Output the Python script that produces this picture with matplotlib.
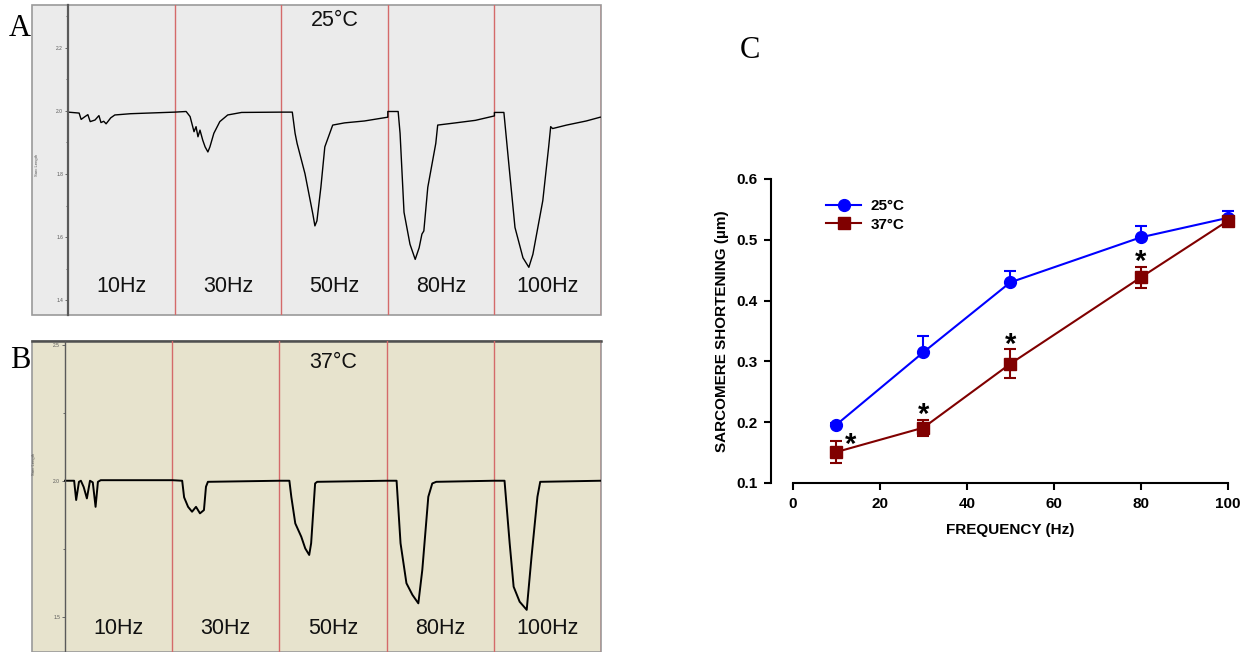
import numpy as np
import matplotlib
matplotlib.use("Agg")
import matplotlib.pyplot as plt
from matplotlib.patches import Rectangle
from matplotlib.lines import Line2D

plt.rcParams["font.family"] = ["Liberation Sans", "DejaVu Sans"]

# ---- panel A/B traces (sarcomere length, um) read from the recordings ----
# x is in "stimulation window" units: window k spans [k, k+1]
stim_labels = ["10Hz", "30Hz", "50Hz", "80Hz", "100Hz"]

trace_a_x = [0.0, 0.104, 0.123, 0.160, 0.186, 0.208, 0.253, 0.290, 0.309, 0.335, 0.357, 0.401, 0.439, 0.587, 1.0,
             1.108, 1.145, 1.182, 1.201, 1.219, 1.238, 1.264, 1.286, 1.312, 1.331, 1.368, 1.424, 1.498, 1.628, 2.0,
             2.104, 2.130, 2.149, 2.223, 2.297, 2.316, 2.335, 2.372, 2.409, 2.483, 2.595, 2.781, 3.0,
             3.0, 3.097, 3.115, 3.152, 3.208, 3.257, 3.294, 3.320, 3.338, 3.375, 3.450, 3.468, 3.636, 3.822, 4.0,
             4.0, 4.089, 4.138, 4.193, 4.268, 4.323, 4.361, 4.454, 4.509, 4.528, 4.546, 4.677, 4.862, 4.993]
trace_a_y = [1.996, 1.993, 1.973, 1.982, 1.988, 1.966, 1.971, 1.985, 1.963, 1.967, 1.959, 1.978, 1.987, 1.991, 1.996,
             1.998, 1.982, 1.934, 1.950, 1.918, 1.939, 1.907, 1.886, 1.870, 1.886, 1.929, 1.966, 1.987, 1.995, 1.996,
             1.996, 1.929, 1.897, 1.801, 1.673, 1.636, 1.652, 1.758, 1.886, 1.955, 1.962, 1.968, 1.980,
             1.998, 1.998, 1.929, 1.679, 1.578, 1.530, 1.567, 1.610, 1.620, 1.758, 1.897, 1.955, 1.962, 1.970, 1.984,
             1.995, 1.995, 1.822, 1.631, 1.535, 1.505, 1.546, 1.716, 1.886, 1.950, 1.944, 1.955, 1.968, 1.980]

trace_b_x = [0.0, 0.085, 0.104, 0.130, 0.148, 0.174, 0.204, 0.233, 0.259, 0.285, 0.307, 0.333, 1.0,
             1.093, 1.111, 1.148, 1.185, 1.222, 1.259, 1.296, 1.315, 1.333, 2.0,
             2.093, 2.111, 2.148, 2.204, 2.241, 2.278, 2.296, 2.333, 2.352, 3.0,
             3.093, 3.130, 3.185, 3.241, 3.296, 3.333, 3.389, 3.426, 3.463, 4.0,
             4.100, 4.148, 4.185, 4.241, 4.307, 4.352, 4.407, 4.433, 5.0]
trace_b_y = [2.0, 2.0, 1.929, 1.996, 2.0, 1.977, 1.935, 2.0, 1.994, 1.904, 1.996, 2.002, 2.002,
             2.0, 1.939, 1.904, 1.886, 1.904, 1.880, 1.892, 1.978, 1.996, 2.0,
             2.0, 1.941, 1.843, 1.794, 1.751, 1.727, 1.770, 1.990, 1.996, 2.0,
             2.0, 1.770, 1.623, 1.580, 1.549, 1.672, 1.941, 1.990, 1.996, 2.0,
             2.0, 1.770, 1.610, 1.555, 1.525, 1.721, 1.941, 1.996, 2.0]

# ---- panel C: sarcomere shortening vs frequency ----
freq = [10, 30, 50, 80, 100]
short_25 = [0.196, 0.315, 0.430, 0.504, 0.536]
err_25 = [0.003, 0.026, 0.019, 0.018, 0.011]
short_37 = [0.151, 0.191, 0.296, 0.438, 0.531]
err_37 = [0.018, 0.013, 0.024, 0.018, 0.004]
signif = [True, True, True, True, False]

W, H = 1248, 652
fig = plt.figure(figsize=(W / 100, H / 100), dpi=100)


def px_axes(x0, y0, x1, y1):
    # axes from pixel box (top-left origin)
    return fig.add_axes([x0 / W, 1 - y1 / H, (x1 - x0) / W, (y1 - y0) / H])


def trace_panel(ax, xs, ys, bg, xlim, ylim, major, minor, temp, label_y, frame_top):
    ax.set_facecolor(bg)
    ax.set_xlim(*xlim)
    ax.set_ylim(*ylim)
    for s in ["top", "right", "bottom"]:
        ax.spines[s].set_visible(False)
    ax.spines["left"].set_position(("data", 0))
    ax.spines["left"].set_color("#5a5a5a")
    ax.spines["left"].set_linewidth(1.6 if frame_top is None else 1.0)
    ax.set_xticks([])
    ax.set_yticks(major)
    ax.set_yticklabels(["%.1f" % v for v in major], fontsize=3.5, color="#555555")
    ax.set_yticks(minor, minor=True)
    ax.tick_params(axis="y", which="major", length=2.5, width=0.6, pad=1, colors="#555555")
    ax.tick_params(axis="y", which="minor", length=1.2, width=0.6, colors="#555555")
    ax.text(-0.29, 1.83 if frame_top is None else 2.06, "Sarc Length", rotation=90, fontsize=3,
            color="#555555", ha="center", va="center")
    # frame
    ax.add_patch(Rectangle((0, 0), 1, 1, transform=ax.transAxes, fill=False,
                           edgecolor="#9a9a9a", lw=1.2, clip_on=False))
    if frame_top is not None:
        ax.plot([0, 1], [1, 1], transform=ax.transAxes, color=frame_top, lw=1.8, clip_on=False)
    for k in range(1, 6):
        ax.axvline(k, color="#d46a6a", lw=1.0)
    ax.plot(xs, ys, color="black", lw=1.0 if frame_top is None else 1.4)
    for k, lab in enumerate(stim_labels):
        ax.text(k + 0.5, label_y, lab, ha="center", va="center", fontsize=15.5, color="#111111")
    ax.text(2.5, temp[1], temp[0], ha="center", va="center", fontsize=15.5, color="#111111")


# panel A
ax_a = px_axes(32, 5, 601, 315)
trace_panel(ax_a, trace_a_x, trace_a_y, "#ebebeb", (-0.338, 5.0), (1.354, 2.335),
            [1.4, 1.6, 1.8, 2.0, 2.2], [1.5, 1.7, 1.9, 2.1, 2.3], ("25°C", 2.286), 1.444, None)

# panel B
ax_b = px_axes(32, 341, 601, 652)
trace_panel(ax_b, trace_b_x, trace_b_y, "#e7e3cd", (-0.308, 5.0), (1.370, 2.514),
            [1.5, 2.0, 2.5], [1.75, 2.25], ("37°C", 2.436), 1.455, "#505050")

# panel letters
fig.text(20 / W, 1 - 28 / H, "A", fontsize=22, family="Liberation Serif", ha="center", va="center")
fig.text(20 / W, 1 - 360 / H, "B", fontsize=22, family="Liberation Serif", ha="center", va="center")
fig.text(750 / W, 1 - 50 / H, "C", fontsize=22, family="Liberation Serif", ha="center", va="center")

# panel C
ax_c = px_axes(771.4, 179, 1227.6, 483)
ax_c.set_xlim(-4.97, 100)
ax_c.set_ylim(0.1, 0.6)
for s in ["top", "right"]:
    ax_c.spines[s].set_visible(False)
ax_c.spines["bottom"].set_bounds(0, 100)
for s in ["left", "bottom"]:
    ax_c.spines[s].set_linewidth(1.5)
ax_c.set_xticks([0, 20, 40, 60, 80, 100])
ax_c.set_yticks([0.1, 0.2, 0.3, 0.4, 0.5, 0.6])
ax_c.set_yticklabels(["%.1f" % v for v in ax_c.get_yticks()])
ax_c.tick_params(direction="out", length=5, width=1.5, labelsize=11, pad=5)
for lab in ax_c.get_xticklabels() + ax_c.get_yticklabels():
    lab.set_fontweight("bold")

blue = "#0000ff"
maroon = "#800000"
ax_c.errorbar(freq, short_25, yerr=[np.zeros(len(err_25)), err_25], color=blue, lw=1.5,
              marker="o", ms=8.5, capsize=4, capthick=1.5, elinewidth=1.5,
              clip_on=False, zorder=3)
ax_c.errorbar(freq, short_37, yerr=err_37, color=maroon, lw=1.5,
              marker="s", ms=8, capsize=4, capthick=1.5, elinewidth=1.5,
              clip_on=False, zorder=4)

# significance stars above the 37°C error bars (first one sits to the right)
for i, f in enumerate(freq):
    if not signif[i]:
        continue
    top = short_37[i] + err_37[i]
    if i == 0:
        ax_c.text(f + 3.2, top - 0.020, "*", ha="center", va="baseline", fontsize=21, fontweight="bold")
    else:
        ax_c.text(f, top - 0.006, "*", ha="center", va="baseline", fontsize=21, fontweight="bold")

ax_c.set_xlabel("FREQUENCY (Hz)", fontsize=11, fontweight="bold")
ax_c.set_ylabel("SARCOMERE SHORTENING (µm)", fontsize=11, fontweight="bold")
ax_c.xaxis.set_label_coords(0.523, -0.132)
ax_c.yaxis.set_label_coords(-0.092, 0.5)

handles = [Line2D([], [], color=blue, lw=1.5, marker="o", ms=8.5),
           Line2D([], [], color=maroon, lw=1.5, marker="s", ms=8)]
ax_c.legend(handles, ["25°C", "37°C"], loc="upper left", bbox_to_anchor=(826 / W, 1 - 199 / H),
            bbox_transform=fig.transFigure, frameon=False, prop={"weight": "bold", "size": 11},
            handlelength=2.3, handletextpad=0.6, labelspacing=0.3, borderpad=0, borderaxespad=0)

fig.savefig("out.png", dpi=100)
